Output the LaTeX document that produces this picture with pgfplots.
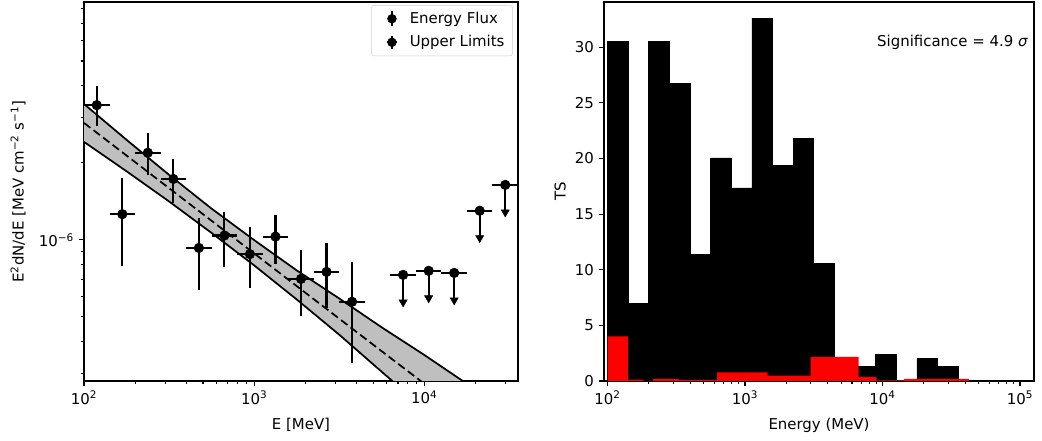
\documentclass[border=0pt]{standalone}
\usepackage{fontspec}
\setmainfont{DejaVu Sans}
\usepackage{pgfplots}
\usepackage{pgfplotstable}
\pgfplotsset{compat=1.18}
\usepgfplotslibrary{fillbetween}
\newcommand\fs{\fontsize{11.2}{13.4}\selectfont}

% flux points: E, F, x error minus/plus, y error minus/plus
\pgfplotstableread{
E F xm xp ym yp
118.85 3.36e-6 18.85 22.40 0.57e-6 0.64e-6
167.88 1.26e-6 26.63 31.65 0.47e-6 0.49e-6
237.14 2.19e-6 37.61 44.70 0.40e-6 0.43e-6
334.97 1.73e-6 53.13 63.14 0.34e-6 0.34e-6
473.15 9.3e-7 75.04 89.19 2.9e-7 2.9e-7
668.34 1.04e-6 106.0 125.99 2.55e-7 2.5e-7
944.06 8.8e-7 149.73 177.94 2.3e-7 2.4e-7
1333.5 1.03e-6 211.5 251.4 2.24e-7 2.2e-7
1883.6 7.04e-7 298.7 355.1 1.99e-7 2.06e-7
2660.7 7.5e-7 422.0 501.6 2.1e-7 2.2e-7
3758.4 5.73e-7 596.1 708.4 2.43e-7 2.47e-7
}\tabflux

% upper limits: E, F, x errors, bar length, arrow end
\pgfplotstableread{
E F xm xp ym T
7498.9 7.3e-7 1189.3 1413.6 1.47e-7 5.83e-7
10593 7.57e-7 1680.5 1996 1.52e-7 6.05e-7
14962 7.43e-7 2373 2821 1.49e-7 5.94e-7
21135 1.30e-6 3352 3984 2.6e-7 1.04e-6
29854 1.64e-6 4735 5627 3.3e-7 1.31e-6
}\tabul

% butterfly: upper, centre, lower
\pgfplotstableread{
E U C L
100 3.396e-6 2.864e-6 2.415e-6
177.8 2.460e-6 2.136e-6 1.854e-6
316.2 1.795e-6 1.592e-6 1.413e-6
562.3 1.324e-6 1.187e-6 1.064e-6
1000 9.98e-7 8.85e-7 7.95e-7
1778 7.60e-7 6.60e-7 5.85e-7
3162 5.90e-7 4.92e-7 4.26e-7
5623 4.55e-7 3.67e-7 3.05e-7
10000 3.55e-7 2.74e-7 2.19e-7
17783 2.74e-7 2.04e-7 1.57e-7
31623 2.12e-7 1.52e-7 1.12e-7
}\tabbow

\pgfplotsset{
  mybase/.style={
    scale only axis, anchor=south west,
    axis line style={line width=0.83pt},
    tick style={black, line width=0.83pt},
    major tick length=3.65pt, minor tick length=2.1pt,
    tick align=outside, xtick pos=left, ytick pos=left,
    every tick label/.append style={font=\fs},
    label style={font=\fs},
    /pgf/number format/assume math mode=true,
  }
}

\begin{document}
\fs
\begin{tikzpicture}[font=\fs]

% ---------------- left panel ----------------
\begin{axis}[mybase, at={(63pt,45pt)}, width=325.5pt, height=284.25pt,
  xmode=log, ymode=log, xmin=100, xmax=35481, ymin=2.81e-7, ymax=8.5e-6,
  xtick={100,1000,10000},
  xticklabels={10\textsuperscript{2},10\textsuperscript{3},10\textsuperscript{4}},
  minor xtick={200,300,400,500,600,700,800,900,2000,3000,4000,5000,6000,7000,8000,9000,2e4,3e4},
  ytick={1e-6}, yticklabels={10\textsuperscript{−6}},
  minor ytick={3e-7,4e-7,5e-7,6e-7,7e-7,8e-7,9e-7,2e-6,3e-6,4e-6,5e-6,6e-6,7e-6,8e-6},
  xlabel={E [MeV]},
  ylabel={E\textsuperscript{2}dN/dE [MeV cm\textsuperscript{−2} s\textsuperscript{−1}]},
  xlabel style={at={(axis description cs:0.5,-0.116)}, anchor=center},
  ylabel style={at={(axis description cs:-0.152,0.5)}, anchor=center},
  legend style={at={(axis description cs:0.988,0.992)}, anchor=north east,
    draw=black!18, rounded corners=2pt, font=\fs, row sep=3.5pt,
    inner xsep=4pt, inner ysep=3pt},
  legend cell align=left,
]
\addlegendimage{legend image code/.code={
  \path[draw=none, fill=none] (0cm,0cm) -- (0.8cm,0cm);
  \draw[black, line width=1.6pt] (0.4cm,-0.2cm) -- (0.4cm,0.2cm);
  \fill[black] (0.4cm,0cm) circle (3.3pt);}}
\addlegendentry{Energy Flux}
\addlegendimage{legend image code/.code={
  \path[draw=none, fill=none] (0cm,0cm) -- (0.8cm,0cm);
  \draw[black, line width=1.6pt] (0.4cm,-0.18cm) -- (0.4cm,0.18cm);
  \draw[black, line width=1.6pt] (0.27cm,0cm) -- (0.53cm,0cm);
  \fill[black] (0.4cm,0cm) circle (3.3pt);}}
\addlegendentry{Upper Limits}

\addplot[name path=up, draw=none, forget plot] table[x=E, y=U] {\tabbow};
\addplot[name path=lo, draw=none, forget plot] table[x=E, y=L] {\tabbow};
\addplot[fill=black!25, draw=none, forget plot] fill between[of=up and lo];
\addplot[black, line width=1.3pt, forget plot] table[x=E, y=U] {\tabbow};
\addplot[black, line width=1.3pt, forget plot] table[x=E, y=L] {\tabbow};
\addplot[black, line width=1.3pt, dash pattern=on 6pt off 3pt, forget plot] table[x=E, y=C] {\tabbow};

\addplot[only marks, mark=*, mark size=3.6pt, black, forget plot,
  error bars/.cd, x dir=both, x explicit, y dir=both, y explicit,
  error mark=none, error bar style={line width=1.6pt}]
  table[x=E, y=F, x error minus=xm, x error plus=xp, y error minus=ym, y error plus=yp] {\tabflux};

\addplot[only marks, mark=*, mark size=3.6pt, black, forget plot,
  error bars/.cd, x dir=both, x explicit, y dir=minus, y explicit,
  error mark=none, error bar style={line width=1.6pt}]
  table[x=E, y=F, x error minus=xm, x error plus=xp, y error minus=ym] {\tabul};
\addplot[only marks, mark=triangle*, mark size=3.5pt, black, forget plot,
  mark options={yshift=-1.75pt, rotate=180}]
  table[x=E, y=T] {\tabul};
\end{axis}

% ---------------- right panel ----------------
\begin{axis}[mybase, at={(453pt,45pt)}, width=322.5pt, height=284.25pt,
  xmode=log, xmin=94.3, xmax=126500, ymin=0, ymax=34.06,
  xtick={100,1000,10000,100000},
  xticklabels={10\textsuperscript{2},10\textsuperscript{3},10\textsuperscript{4},10\textsuperscript{5}},
  minor xtick={200,300,400,500,600,700,800,900,2000,3000,4000,5000,6000,7000,8000,9000,2e4,3e4,4e4,5e4,6e4,7e4,8e4,9e4},
  ytick={0,5,10,15,20,25,30},
  xlabel={Energy (MeV)}, ylabel={TS},
  xlabel style={at={(axis description cs:0.5,-0.116)}, anchor=center},
  ylabel style={at={(axis description cs:-0.102,0.5)}, anchor=center},
]
\addplot[const plot, fill=black, draw=black, line width=0.4pt] coordinates {
 (100,0) (100,30.5) (141.25,7.0) (199.53,30.5) (281.84,26.75) (398.11,11.4)
 (562.34,20.05) (794.33,17.35) (1122,32.6) (1584.9,19.4) (2238.7,21.8)
 (3162.3,10.55) (4466.8,0) (6309.6,1.3) (8912.5,2.4) (12589,0) (17783,2.0)
 (25119,1.3) (35481,0)} \closedcycle;
\addplot[const plot, fill=red, draw=none] coordinates {
 (100,0) (100,4.02) (141.25,0.12) (182,0) (214,0.2) (331,0.1) (626,0.78)
 (1462,0.48) (3006,2.16) (6714,0.36) (9078,0.05) (14320,0.2) (42560,0)} \closedcycle;
\node[anchor=east, font=\fs] at (axis description cs:0.998,0.894) {Significance = 4.9 \textit{σ}};
\end{axis}

\pgfresetboundingbox
\path[use as bounding box] (0,0) rectangle (781.5pt,330.75pt);
\end{tikzpicture}
\end{document}
